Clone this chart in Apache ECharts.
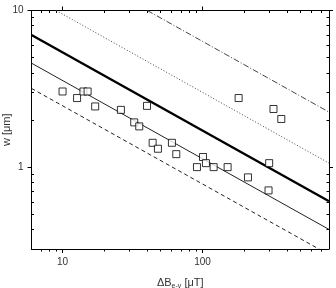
<!DOCTYPE html>
<html>
<head>
<meta charset="utf-8">
<style>
  html, body { margin: 0; padding: 0; background: #fff; }
  #main { width: 336px; height: 288px; }
</style>
<script src="https://cdn.jsdelivr.net/npm/echarts@6/dist/echarts.min.js"></script>
</head>
<body>
<div id="main"></div>
<script>
// measured points: field difference [uT] vs width [um]
const fieldB = [10, 12.7, 14.1, 15.1, 17.1, 26.1, 40.1, 32.5, 35.3, 44, 48, 181, 60.4, 64.9,
  100.7, 105.7, 91.2, 120, 151, 211, 299, 296, 321, 365];
const widthW = [3.04, 2.76, 3.04, 3.04, 2.44, 2.32, 2.46, 1.93, 1.82, 1.43, 1.31, 2.76, 1.43, 1.21,
  1.16, 1.06, 1.0, 1.0, 1.0, 0.86, 1.06, 0.71, 2.35, 2.03];

// end points of the guide lines
const lineThick = [[6, 6.98], [800, 0.605]];
const lineThin = [[6, 4.61], [800, 0.40]];
const lineDashed = [[6, 3.18], [800, 0.276]];
const lineDotted = [[9, 10], [800, 1.06]];
const lineDashDot = [[40.3, 10], [800, 2.245]];

// ticks
const xMajor = [10, 100];
const xMinor = [7, 8, 9, 20, 30, 40, 50, 60, 70, 80, 90, 200, 300, 400, 500, 600, 700];
const yMajor = [1, 10];
const yMinor = [0.4, 0.5, 0.6, 0.7, 0.8, 0.9, 2, 3, 4, 5, 6, 7, 8, 9];

const chart = echarts.init(document.getElementById('main'));

const font = 'Liberation Sans, Arial, sans-serif';
const xMin = 6, xMax = 800, yMin = 0.3, yMax = 10;

function xAx(pos, ticks, len, inside, showLine, showLabel) {
  return {
    type: 'log', position: pos, min: xMin, max: xMax, logBase: 10,
    axisLine: { show: showLine, lineStyle: { color: '#000', width: 1 } },
    axisTick: { show: true, customValues: ticks, length: len, inside: inside,
      lineStyle: { color: '#000', width: 1 } },
    axisLabel: { show: showLabel, customValues: ticks, margin: 8, color: '#333',
      fontFamily: font, fontSize: 10, formatter: v => String(v) },
    splitLine: { show: false }
  };
}
function yAx(pos, ticks, len, inside, showLine, showLabel) {
  return {
    type: 'log', position: pos, min: yMin, max: yMax, logBase: 10,
    axisLine: { show: showLine, lineStyle: { color: '#000', width: 1 } },
    axisTick: { show: true, customValues: ticks, length: len, inside: inside,
      lineStyle: { color: '#000', width: 1 } },
    axisLabel: { show: showLabel, customValues: ticks, margin: 8, color: '#333',
      fontFamily: font, fontSize: 10, formatter: v => String(v) },
    splitLine: { show: false }
  };
}

const xBottom = xAx('bottom', xMajor, 4, false, true, true);
xBottom.name = '{a|ΔB}{s|e-v}{a| [μT]}';
xBottom.nameLocation = 'middle';
xBottom.nameGap = 26;
xBottom.nameMoveOverlap = false;
xBottom.nameTextStyle = {
  color: '#333', fontFamily: font, fontSize: 11,
  rich: {
    a: { fontFamily: font, fontSize: 11, color: '#333', lineHeight: 15 },
    s: { fontFamily: font, fontSize: 7, color: '#333', verticalAlign: 'bottom', lineHeight: 15 }
  }
};
const yLeft = yAx('left', yMajor, 4, false, true, true);
yLeft.name = 'w [μm]';
yLeft.nameLocation = 'middle';
yLeft.nameGap = 19;
yLeft.nameMoveOverlap = false;
yLeft.nameTextStyle = { color: '#333', fontFamily: font, fontSize: 11 };

function guide(data, width, type, color) {
  return {
    type: 'line', data: data, xAxisIndex: 0, yAxisIndex: 0,
    showSymbol: false, silent: true, clip: true, z: 2,
    lineStyle: { color: color, width: width, type: type }
  };
}

chart.setOption({
  animation: false,
  grid: { left: 31.5, right: 7, top: 10.5, bottom: 39, containLabel: false, outerBoundsMode: 'none' },
  xAxis: [
    xBottom,
    xAx('bottom', xMinor, 2.5, false, false, false),
    xAx('top', xMajor, 4, false, true, false),
    xAx('top', xMinor, 2.5, true, false, false)
  ],
  yAxis: [
    yLeft,
    yAx('left', yMinor, 2.5, true, false, false),
    yAx('right', yMajor, 4, false, true, false),
    yAx('right', yMinor, 2.5, true, false, false)
  ],
  series: [
    guide(lineThick, 2.4, 'solid', '#000'),
    guide(lineThin, 1, 'solid', '#222'),
    guide(lineDashed, 1, [4, 3], '#222'),
    guide(lineDotted, 1, [1, 2], '#444'),
    guide(lineDashDot, 1, [6, 2, 1, 2], '#444'),
    {
      type: 'scatter', xAxisIndex: 0, yAxisIndex: 0, z: 5,
      data: fieldB.map((b, i) => [b, widthW[i]]),
      symbol: 'rect', symbolSize: 7,
      itemStyle: { color: '#fff', borderColor: '#000', borderWidth: 1 }
    }
  ]
});
</script>
</body>
</html>
